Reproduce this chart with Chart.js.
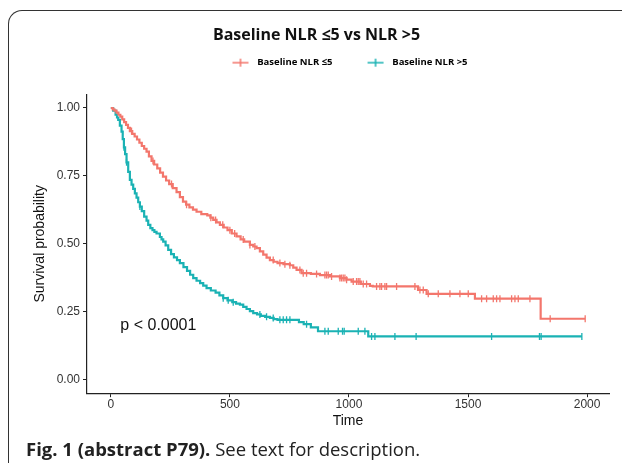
<!DOCTYPE html>
<html>
<head>
<meta charset="utf-8">
<script src="https://cdn.jsdelivr.net/npm/chart.js@4.4.1/dist/chart.umd.min.js"></script>
<style>
  body { margin: 0; background: #fff; }
  #wrap { position: relative; width: 622px; height: 463px; overflow: hidden; }
  #frame { position: absolute; left: 8px; top: 10px; width: 700px; height: 600px;
           border-top: 1.5px solid #333; border-left: 1.5px solid #333; border-top-left-radius: 14px; }
  #chart { position: absolute; left: 0; top: 0; }
  #caption { position: absolute; left: 26px; top: 436px; font: 18.5px 'Open Sans', sans-serif;
             line-height: 26px; color: #222; white-space: nowrap; }
</style>
</head>
<body>
<div id="wrap">
  <div id="frame"></div>
  <canvas id="chart" width="622" height="463"></canvas>
  <div id="caption"><b>Fig. 1 (abstract P79).</b> See text for description.</div>
</div>
<script>
// Kaplan-Meier steps (time, survival after the drop)
const lowTime = [0, 8, 15, 24, 32, 40, 48, 56, 64, 72, 80, 90, 100, 110, 120, 130, 140, 150, 160, 171,
  182, 195, 207, 219, 232, 245, 260, 276, 290, 303, 316, 330, 345, 360, 380, 405, 418, 430, 444, 458,
  474, 490, 508, 528, 545, 560, 584, 598, 612, 626, 640, 654, 668, 684, 700, 725, 752, 766, 780, 801,
  840, 878, 920, 962, 990, 1011, 1050, 1088, 1100, 1290, 1326, 1529, 1805, 1992];
const lowSurv = [1, 0.995, 0.99, 0.983, 0.975, 0.968, 0.958, 0.948, 0.938, 0.927, 0.915, 0.905, 0.895, 0.884, 0.872, 0.86, 0.85, 0.839, 0.822, 0.805,
  0.792, 0.778, 0.762, 0.747, 0.733, 0.72, 0.705, 0.69, 0.672, 0.655, 0.644, 0.634, 0.626, 0.618, 0.609, 0.605, 0.596, 0.588, 0.579, 0.57,
  0.56, 0.55, 0.538, 0.527, 0.516, 0.508, 0.496, 0.49, 0.484, 0.472, 0.46, 0.449, 0.44, 0.434, 0.429, 0.425, 0.421, 0.412, 0.404, 0.392,
  0.389, 0.385, 0.38, 0.374, 0.368, 0.361, 0.352, 0.345, 0.343, 0.33, 0.316, 0.298, 0.224, 0.224];
const lowCensor = [87, 177, 255, 318, 420, 440, 470, 500, 520, 556, 584, 605, 682, 710, 731, 752, 794, 808, 822, 864,
  899, 906, 913, 927, 962, 969, 976, 983, 990, 1018, 1032, 1039, 1046, 1060, 1074, 1116, 1130, 1137, 1151, 1158,
  1200, 1277, 1298, 1312, 1333, 1375, 1424, 1466, 1501, 1557, 1578, 1606, 1620, 1634, 1683, 1697, 1711, 1760, 1845, 1992];

const highTime = [0, 10, 20, 26, 31, 38, 45, 50, 55, 60, 66, 73, 80, 87, 94, 101, 108, 115, 122, 130,
  140, 150, 157, 166, 175, 183, 192, 206, 213, 220, 230, 241, 253, 265, 278, 290, 305, 320, 333, 346,
  360, 375, 388, 402, 420, 440, 456, 472, 490, 510, 526, 542, 556, 570, 584, 598, 614, 630, 648, 668,
  684, 700, 790, 810, 840, 870, 1081, 1978];
const highSurv = [1, 0.99, 0.975, 0.965, 0.956, 0.935, 0.913, 0.885, 0.855, 0.83, 0.8, 0.765, 0.735, 0.718, 0.702, 0.686, 0.67, 0.653, 0.637, 0.62,
  0.6, 0.585, 0.57, 0.558, 0.55, 0.544, 0.538, 0.525, 0.516, 0.508, 0.494, 0.478, 0.462, 0.45, 0.44, 0.429, 0.414, 0.4, 0.386, 0.374,
  0.364, 0.355, 0.346, 0.337, 0.328, 0.32, 0.31, 0.3, 0.292, 0.285, 0.28, 0.276, 0.268, 0.26, 0.252, 0.245, 0.24, 0.235, 0.231, 0.227,
  0.223, 0.22, 0.212, 0.204, 0.192, 0.178, 0.159, 0.159];
const highCensor = [55, 66, 122, 472, 493, 514, 626, 654, 682, 710, 724, 738, 752, 822, 899, 913, 955, 973, 980,
  1039, 1067, 1095, 1109, 1193, 1282, 1599, 1800, 1807, 1978];

const seriesNames = ['Baseline NLR ≤5', 'Baseline NLR >5'];
const colors = ['#F3766C', '#1AB2B4'];
const xTicks = [0, 500, 1000, 1500, 2000];
const yTicks = [0, 0.25, 0.5, 0.75, 1];
const pText = 'p < 0.0001';
const pAt = [40, 0.2];

const toPoints = (t, s) => t.map((v, i) => ({ x: v, y: s[i] }));
// a censored subject sits on the step in force at its time
const survAt = (t, s, c) => { let v = s[0]; t.forEach((tt, i) => { if (tt <= c) v = s[i]; }); return v; };
const censorPoints = (t, s, c) => c.map(v => ({ x: v, y: survAt(t, s, v) }));

const sans = "'Liberation Sans', Arial, sans-serif";
const open = "'Open Sans', sans-serif";

function legendIcon(color) {
  const c = document.createElement('canvas');
  c.width = 46; c.height = 10;
  const g = c.getContext('2d');
  g.strokeStyle = color; g.lineWidth = 1.5;
  g.beginPath();
  g.moveTo(26, 5); g.lineTo(42, 5);
  g.moveTo(34, 1); g.lineTo(34, 9);
  g.stroke();
  return c;
}

// extra room under the legend, and nudge the keys left like the original
const legendSpace = {
  id: 'legendSpace',
  beforeInit(chart) {
    const fit = chart.legend.fit;
    chart.legend.fit = function () {
      fit.call(this);
      this.height += 17;
      this.lineWidths[0] += 22;
    };
  }
};

const pValue = {
  id: 'pValue',
  afterDatasetsDraw(chart) {
    const { ctx, scales: { x, y } } = chart;
    ctx.save();
    ctx.font = '16px ' + sans;
    ctx.fillStyle = '#111';
    ctx.textAlign = 'left';
    ctx.textBaseline = 'middle';
    ctx.fillText(pText, x.getPixelForValue(pAt[0]), y.getPixelForValue(pAt[1]));
    ctx.restore();
  }
};

const line = (i, t, s) => ({
  label: seriesNames[i], data: toPoints(t, s), showLine: true, stepped: 'before',
  borderColor: colors[i], borderWidth: 2.2, pointRadius: 0
});
const marks = (i, t, s, c) => ({
  label: seriesNames[i] + ' censored', data: censorPoints(t, s, c), showLine: false,
  pointStyle: 'line', rotation: 90, pointRadius: 3.5, borderColor: colors[i], borderWidth: 1.3
});

new Chart(document.getElementById('chart'), {
  type: 'scatter',
  data: {
    datasets: [
      line(0, lowTime, lowSurv),
      line(1, highTime, highSurv),
      marks(0, lowTime, lowSurv, lowCensor),
      marks(1, highTime, highSurv, highCensor)
    ]
  },
  options: {
    responsive: false,
    animation: false,
    layout: { padding: { top: 20, left: 24, right: 13, bottom: 33 } },
    plugins: {
      title: {
        display: true, text: 'Baseline NLR ≤5 vs NLR >5', color: '#111',
        font: { family: open, size: 16, weight: 'bold' }, padding: { top: 5.4, bottom: 4.3 }
      },
      legend: {
        fullSize: false,
        labels: {
          usePointStyle: true, pointStyleWidth: 46, padding: 9, color: '#222',
          font: { family: open, size: 9.5, weight: 'bold' },
          generateLabels: () => seriesNames.map((n, i) => ({
            text: n, pointStyle: legendIcon(colors[i]), fillStyle: colors[i],
            strokeStyle: colors[i], lineWidth: 0, datasetIndex: i
          }))
        }
      },
      tooltip: { enabled: false }
    },
    scales: {
      x: {
        type: 'linear', min: -100, max: 2092,
        afterBuildTicks: s => { s.ticks = xTicks.map(v => ({ value: v })); },
        ticks: { color: '#333', padding: 0, font: { family: sans, size: 12 }, callback: v => String(v) },
        grid: { drawOnChartArea: false, tickLength: 4, color: '#222' },
        border: { color: '#222', width: 1.2 },
        title: { display: true, text: 'Time', color: '#111', font: { family: sans, size: 14 }, padding: { top: 1.6, bottom: 0 } }
      },
      y: {
        min: -0.05, max: 1.05,
        afterBuildTicks: s => { s.ticks = yTicks.map(v => ({ value: v })); },
        ticks: { color: '#333', padding: 3, font: { family: sans, size: 12 }, callback: v => v.toFixed(2) },
        grid: { drawOnChartArea: false, tickLength: 4, color: '#222' },
        border: { color: '#222', width: 1.2 },
        title: { display: true, text: 'Survival probability', color: '#111', font: { family: sans, size: 14 }, padding: { top: 7.6, bottom: 5.25 } }
      }
    }
  },
  plugins: [legendSpace, pValue]
});
</script>
</body>
</html>
